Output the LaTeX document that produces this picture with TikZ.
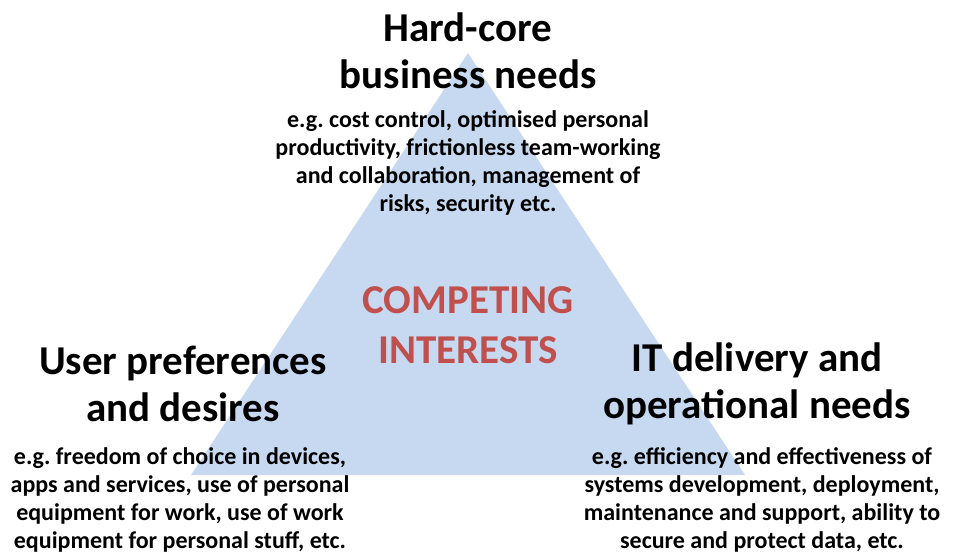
\documentclass[tikz,border=0pt]{standalone}
\usepackage{fontspec}
\setmainfont{Carlito}
\definecolor{triblue}{HTML}{C6D9F1}
\definecolor{compred}{HTML}{C0504D}
\tikzset{
  head/.style={align=center, font=\fontsize{41}{47.5}\selectfont\bfseries, text=black, inner sep=0pt},
  small/.style={align=center, font=\fontsize{24}{28}\selectfont\bfseries, text=black, inner sep=0pt},
  center/.style={align=center, font=\fontsize{41}{50}\selectfont\bfseries, text=compred, inner sep=0pt}
}
\begin{document}
\frenchspacing
\begin{tikzpicture}[x=1pt,y=-1pt]
\useasboundingbox (0,0) rectangle (957,555);
\coordinate (apex) at (468,53);
\coordinate (bl) at (191,475);
\coordinate (br) at (745,475);
\fill[triblue] (apex) -- (br) -- (bl) -- cycle;
\node[head] (toph) at (468,51) {Hard-core\\business needs};
\node[small] (tops) at (468,163) {e.g. cost control, optimised personal\\productivity, frictionless team-working\\and collaboration, management of\\risks, security etc.};
\node[center] (mid) at (468,325) {COMPETING\\INTERESTS};
\node[head] (lefth) at (183,384) {User preferences\\and desires};
\node[small] (lefts) at (180,500) {e.g. freedom of choice in devices,\\apps and services, use of personal\\equipment for work, use of work\\equipment for personal stuff, etc.};
\node[head] (righth) at (757,384) {IT delivery and\\operational needs};
\node[small] (rights) at (762,500) {e.g. efficiency and effectiveness of\\systems development, deployment,\\maintenance and support, ability to\\secure and protect data, etc.};
\end{tikzpicture}
\end{document}
